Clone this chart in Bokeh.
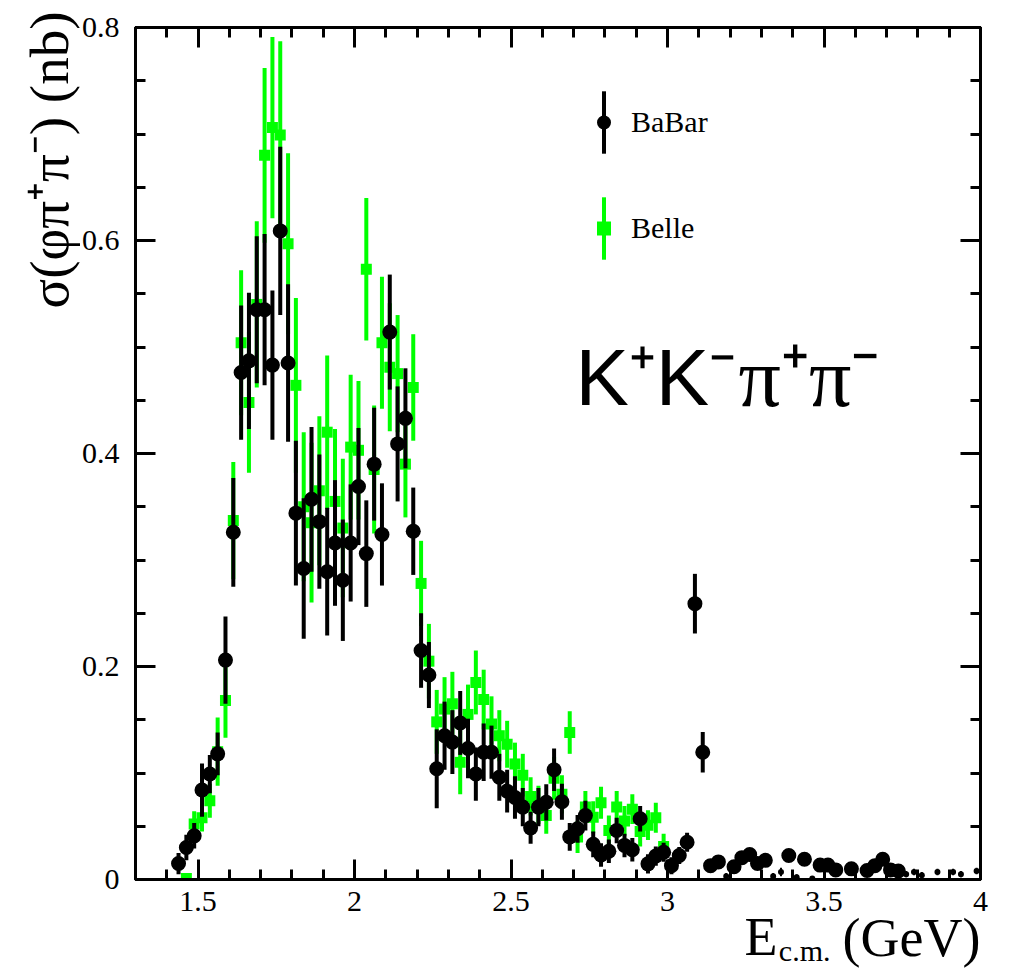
import numpy as np
from bokeh.plotting import figure
from bokeh.models import (ColumnDataSource, Range1d, LinearAxis, SingleIntervalTicker,
                          CustomJSTickFormatter, Label, Legend, LegendItem, Title)
from bokeh.embed import file_html
from bokeh.resources import INLINE

# ---------------- data ----------------
babar_x = [1.4375, 1.4625, 1.4875, 1.5125, 1.5375, 1.5625, 1.5875, 1.6125, 1.6375, 1.6625,
           1.6875, 1.7125, 1.7375, 1.7625, 1.7875, 1.8125, 1.8375, 1.8625, 1.8875, 1.9125,
           1.9375, 1.9625, 1.9875, 2.0125, 2.0375, 2.0625, 2.0875, 2.1125, 2.1375, 2.1625,
           2.1875, 2.2125, 2.2375, 2.2625, 2.2875, 2.3125, 2.3375, 2.3625, 2.3875, 2.4125,
           2.4375, 2.4625, 2.4875, 2.5125, 2.5375, 2.5625, 2.5875, 2.6125, 2.6375, 2.6625,
           2.6875, 2.7125, 2.7375, 2.7625, 2.7875, 2.8125, 2.8375, 2.8625, 2.8875, 2.9125,
           2.9375, 2.9625, 2.9875, 3.0125, 3.0375, 3.0625, 3.0875, 3.1125, 3.1375, 3.1625,
           3.2125, 3.2375, 3.2625, 3.2875, 3.3125, 3.3875, 3.4375, 3.4875, 3.5125, 3.5375,
           3.5875, 3.6375, 3.6625, 3.6875, 3.7125, 3.7375]
babar_y = [0.015, 0.030, 0.041, 0.084, 0.099, 0.118, 0.206, 0.326, 0.476, 0.487,
           0.535, 0.535, 0.483, 0.609, 0.485, 0.344, 0.292, 0.357, 0.336, 0.289,
           0.316, 0.281, 0.316, 0.369, 0.306, 0.390, 0.324, 0.514, 0.409, 0.433,
           0.327, 0.215, 0.192, 0.104, 0.135, 0.129, 0.147, 0.123, 0.099, 0.1195,
           0.1195, 0.096, 0.083, 0.077, 0.068, 0.0485, 0.068, 0.0725, 0.103, 0.073,
           0.040, 0.0476, 0.060, 0.033, 0.023, 0.0265, 0.046, 0.032, 0.028, 0.057,
           0.0147, 0.022, 0.0256, 0.013, 0.0225, 0.035, 0.259, 0.1195, 0.013, 0.0165,
           0.012, 0.0205, 0.0235, 0.015, 0.018, 0.0225, 0.019, 0.0135, 0.0135, 0.009,
           0.010, 0.0085, 0.013, 0.019, 0.009, 0.008]
babar_err = [0.010, 0.012, 0.012, 0.025, 0.018, 0.020, 0.041, 0.051, 0.063, 0.064,
             0.069, 0.071, 0.070, 0.079, 0.074, 0.068, 0.066, 0.068, 0.063, 0.060,
             0.059, 0.057, 0.055, 0.055, 0.050, 0.053, 0.048, 0.054, 0.054, 0.047,
             0.041, 0.035, 0.031, 0.037, 0.032, 0.030, 0.030, 0.028, 0.025, 0.027,
             0.025, 0.022, 0.020, 0.020, 0.018, 0.015, 0.018, 0.017, 0.020, 0.017,
             0.013, 0.013, 0.014, 0.012, 0.011, 0.011, 0.012, 0.011, 0.011, 0.012,
             0.009, 0.009, 0.009, 0.008, 0.008, 0.009, 0.028, 0.019, 0.005, 0.006,
             0.005, 0.006, 0.006, 0.006, 0.006, 0.006, 0.006, 0.005, 0.005, 0.004,
             0.004, 0.004, 0.004, 0.005, 0.004, 0.004]

babar_low_x = [3.1875, 3.3375, 3.3625, 3.4125, 3.4625, 3.7625, 3.7875, 3.8125, 3.8625,
               3.9125, 3.9375, 3.9875]
babar_low_y = [0.003, 0.003, 0.007, 0.002, 0.001, 0.005, 0.007, 0.004, 0.007,
               0.007, 0.005, 0.008]
babar_low_err = [0.003, 0.003, 0.004, 0.003, 0.002, 0.003, 0.003, 0.003, 0.003,
                 0.003, 0.003, 0.003]

belle_x = [1.4625, 1.4875, 1.5125, 1.5375, 1.5625, 1.5875, 1.6125, 1.6375, 1.6625, 1.6875,
           1.7125, 1.7375, 1.7625, 1.7875, 1.8125, 1.8375, 1.8625, 1.8875, 1.9125, 1.9375,
           1.9625, 1.9875, 2.0125, 2.0375, 2.0625, 2.0875, 2.1125, 2.1375, 2.1625, 2.1875,
           2.2125, 2.2375, 2.2625, 2.2875, 2.3125, 2.3375, 2.3625, 2.3875, 2.4125, 2.4375,
           2.4625, 2.4875, 2.5125, 2.5375, 2.5625, 2.5875, 2.6125, 2.6375, 2.6625, 2.6875,
           2.7125, 2.7375, 2.7625, 2.7875, 2.8125, 2.8375, 2.8625, 2.8875, 2.9125, 2.9375,
           2.9625, 2.9875]
belle_y = [0.001, 0.052, 0.058, 0.074, 0.120, 0.168, 0.337, 0.504, 0.448, 0.540,
           0.680, 0.706, 0.699, 0.597, 0.464, 0.350, 0.335, 0.365, 0.420, 0.355,
           0.330, 0.406, 0.403, 0.573, 0.385, 0.504, 0.481, 0.475, 0.390, 0.462,
           0.278, 0.205, 0.148, 0.160, 0.165, 0.110, 0.155, 0.185, 0.169, 0.146,
           0.135, 0.127, 0.1085, 0.098, 0.078, 0.070, 0.060, 0.095, 0.080, 0.138,
           0.040, 0.068, 0.0585, 0.072, 0.046, 0.068, 0.055, 0.066, 0.045, 0.051,
           0.058, 0.031]
belle_err = [0.004, 0.012, 0.013, 0.016, 0.032, 0.035, 0.055, 0.068, 0.066, 0.078,
             0.082, 0.085, 0.088, 0.085, 0.082, 0.070, 0.075, 0.070, 0.072, 0.068,
             0.065, 0.068, 0.065, 0.067, 0.060, 0.062, 0.060, 0.055, 0.050, 0.050,
             0.040, 0.035, 0.030, 0.030, 0.030, 0.030, 0.028, 0.030, 0.028, 0.026,
             0.024, 0.022, 0.020, 0.020, 0.018, 0.018, 0.017, 0.020, 0.018, 0.020,
             0.015, 0.015, 0.015, 0.015, 0.014, 0.015, 0.014, 0.014, 0.014, 0.014,
             0.014, 0.012]

series_names = ["BaBar", "Belle"]

BLACK = "black"
GREEN = "#00ff00"
SERIF = "Liberation Serif"

def src(xs, ys, es):
    xs = np.asarray(xs); ys = np.asarray(ys); es = np.asarray(es)
    return ColumnDataSource(dict(x=xs, y=ys, lo=ys - es, hi=ys + es))

p = figure(width=1009, height=970, output_backend="svg", toolbar_location=None,
           x_range=Range1d(1.3, 4.0), y_range=Range1d(0.0, 0.8),
           min_border_left=135, min_border_right=29, min_border_top=27, min_border_bottom=91,
           x_axis_type=None, y_axis_type=None)
p.grid.visible = False
p.outline_line_color = "black"
p.outline_line_width = 3
p.background_fill_color = "white"
p.border_fill_color = "white"
# an x range that lies off screen: used only by legend-glyph renderers
p.extra_x_ranges = {"legend_only": Range1d(100.0, 101.0)}

xfmt = CustomJSTickFormatter(code="""
    if (Math.abs(tick - Math.round(tick)) < 1e-6) { return tick.toFixed(0); }
    return tick.toFixed(1);
""")
yfmt = CustomJSTickFormatter(code="""
    if (Math.abs(tick) < 1e-9) { return "0"; }
    return tick.toFixed(1);
""")

def style_axis(ax, show_labels):
    ax.axis_line_width = 3
    ax.axis_line_color = "black"
    ax.major_tick_in = 20
    ax.major_tick_out = 0
    ax.minor_tick_in = 10
    ax.minor_tick_out = 0
    ax.major_tick_line_width = 3
    ax.minor_tick_line_width = 3
    ax.major_tick_line_color = "black"
    ax.minor_tick_line_color = "black"
    if show_labels:
        ax.major_label_text_font = SERIF
        ax.major_label_text_font_size = "30px"
        ax.major_label_text_color = "black"
    else:
        ax.major_label_text_font_size = "0px"
        ax.major_label_text_alpha = 0

for loc, show in (("below", True), ("above", False)):
    ax = LinearAxis(ticker=SingleIntervalTicker(interval=0.5, num_minor_ticks=5), formatter=xfmt)
    style_axis(ax, show)
    if show:
        ax.major_label_standoff = 12
    p.add_layout(ax, loc)

for loc, show in (("left", True), ("right", False)):
    ax = LinearAxis(ticker=SingleIntervalTicker(interval=0.2, num_minor_ticks=4), formatter=yfmt)
    style_axis(ax, show)
    if show:
        ax.major_label_standoff = 16
    p.add_layout(ax, loc)

# ---------------- axis titles (side-panel titles) ----------------
p.add_layout(Title(text="σ(φπ⁺π⁻) (nb)", align="right", vertical_align="bottom",
                   offset=-16, standoff=-2, text_font=SERIF, text_font_size="55px",
                   text_font_style="normal", text_color="black"), "left")

p.add_layout(Title(text="(GeV)", align="right", vertical_align="top", offset=0, standoff=-11,
                   text_font=SERIF, text_font_size="54px", text_font_style="normal",
                   text_color="black"), "below")
p.add_layout(Title(text="E", align="right", vertical_align="top", offset=203, standoff=-115,
                   text_font=SERIF, text_font_size="54px", text_font_style="normal",
                   text_color="black"), "below")
p.add_layout(Title(text="c.m.", align="right", vertical_align="top", offset=150, standoff=-61,
                   text_font=SERIF, text_font_size="30px", text_font_style="normal",
                   text_color="black"), "below")

# ---------------- data marks ----------------
s_belle = src(belle_x, belle_y, belle_err)
s_babar = src(babar_x, babar_y, babar_err)
s_low = src(babar_low_x, babar_low_y, babar_low_err)

p.segment(x0="x", y0="lo", x1="x", y1="hi", source=s_belle, line_color=GREEN, line_width=4)
r_belle = p.scatter("x", "y", source=s_belle, marker="square", size=11,
                    fill_color=GREEN, line_color=GREEN, line_width=0)

p.segment(x0="x", y0="lo", x1="x", y1="hi", source=s_babar, line_color=BLACK, line_width=4)
p.segment(x0="x", y0="lo", x1="x", y1="hi", source=s_low, line_color=BLACK, line_width=2)
r_babar = p.scatter("x", "y", source=s_babar, marker="circle", size=15,
                    fill_color=BLACK, line_color=BLACK, line_width=0)
p.scatter("x", "y", source=s_low, marker="circle", size=6,
          fill_color=BLACK, line_color=BLACK, line_width=0)

# legend-only renderers (mapped to an off-screen x range; only their legend glyph shows)
bar_babar = p.vbar(x="x", top="y", width=0.02, source=s_babar, x_range_name="legend_only",
                   fill_color=BLACK, line_color=None)
bar_belle = p.vbar(x="x", top="y", width=0.02, source=s_belle, x_range_name="legend_only",
                   fill_color=GREEN, line_color=None)
leg_babar = p.scatter("x", "y", source=s_babar, x_range_name="legend_only",
                      marker="circle", size=14, fill_color=BLACK, line_color=BLACK, line_width=0)
leg_belle = p.scatter("x", "y", source=s_belle, x_range_name="legend_only",
                      marker="square", size=13, fill_color=GREEN, line_color=GREEN, line_width=0)

# legend A: vertical error-bar keys only
legend_bars = Legend(items=[LegendItem(label="", renderers=[bar_babar]),
                            LegendItem(label="", renderers=[bar_belle])],
                     location=(466, 612), orientation="vertical",
                     glyph_width=5, glyph_height=78, spacing=28, label_standoff=0,
                     label_width=0, padding=0, margin=0, border_line_color=None,
                     background_fill_alpha=0, label_text_font_size="1px")
p.add_layout(legend_bars, "center")

# legend B: markers + labels
legend = Legend(items=[LegendItem(label=series_names[0], renderers=[leg_babar]),
                       LegendItem(label=series_names[1], renderers=[leg_belle])],
                location=(451, 616), orientation="vertical",
                glyph_width=35, glyph_height=70, spacing=36, label_standoff=10,
                padding=0, margin=0, border_line_color=None, background_fill_alpha=0,
                label_text_font=SERIF, label_text_font_size="30px", label_text_color="black")
p.add_layout(legend, "center")

# ---------------- in-frame text ----------------
p.add_layout(Label(x=1.3 + (575 - 135) / 312.96, y=(879 - 377) / 1065.0, text="K⁺K⁻",
                   text_font="Liberation Sans", text_font_size="80px", text_color="black",
                   text_align="left", text_baseline="alphabetic"))
p.add_layout(Label(x=1.3 + (738 - 135) / 312.96, y=(879 - 377) / 1065.0, text="π⁺π⁻",
                   text_font=SERIF, text_font_size="84px", text_color="black",
                   text_align="left", text_baseline="alphabetic"))

open("out.html", "w").write(file_html(p, INLINE))
